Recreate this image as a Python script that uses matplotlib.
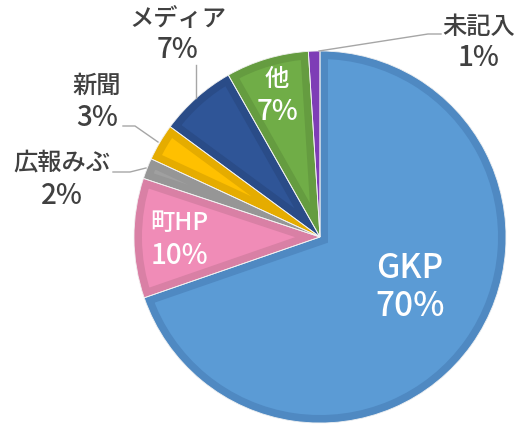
import matplotlib
matplotlib.use('Agg')
import matplotlib.pyplot as plt

plt.rcParams['font.family'] = ['Noto Sans CJK JP', 'DejaVu Sans']

# データ（時計回り、12時方向から）
categories = ['GKP', '町HP', '広報みぶ', '新聞', 'メディア', '他', '未記入']
values = [69.7, 10.4, 1.8, 3.2, 6.7, 7.2, 1.0]
pct_labels = [70, 10, 2, 3, 7, 7, 1]

fill_colors = ['#5B9BD5', '#F08CB7', '#A0A0A0', '#FFC000', '#2F5597', '#70AD47', '#8A45C4']
edge_colors = ['#4F89C2', '#D980A5', '#969696', '#E5AC00', '#2A4C88', '#659C40', '#7E3DB6']

W, H = 522, 426
fig = plt.figure(figsize=(W / 100, H / 100), dpi=100)
ax = fig.add_axes([0, 0, 1, 1])

cx, cy, r = 320, H - 237, 186
wedges, _ = ax.pie(values, colors=fill_colors, startangle=90, counterclock=False,
                   center=(cx, cy), radius=r, frame=True)
for w, ec in zip(wedges, edge_colors):
    w.set_edgecolor(ec)
    w.set_linewidth(11.5)
    w.set_clip_on(True)
    w.set_clip_path(w)   # 内側だけ縁取り

# 白い区切り線
seps, _ = ax.pie(values, colors=['none'] * len(values), startangle=90, counterclock=False,
                 center=(cx, cy), radius=r, frame=True,
                 wedgeprops=dict(edgecolor='#F2F2F2', linewidth=0.6))
for s in seps:
    s.set_facecolor('none')

ax.set_xlim(0, W)
ax.set_ylim(0, H)
ax.axis('off')

# ラベル位置（ピクセル座標: x, 1行目y, 2行目y, 色, 文字サイズ, %サイズ）
label_pos = {
    'GKP': (410, 269, 306, 'white', 24, 24),
    '町HP': (179, 223, 255, 'white', 17.5, 20),
    '広報みぶ': (62, 163, 195, '#404040', 17.5, 20),
    '新聞': (97, 86, 118, '#404040', 17.5, 20),
    'メディア': (178, 19, 50, '#404040', 17.5, 20),
    '他': (277, 79, 112, 'white', 17.5, 20),
    '未記入': (479, 27, 57, '#404040', 17.5, 20),
}
for cat, p in zip(categories, pct_labels):
    x, y1, y2, c, fs1, fs2 = label_pos[cat]
    ax.text(x, H - y1, cat, ha='center', va='center', color=c,
            fontsize=fs1, fontweight='medium')
    ax.text(x, H - y2, f'{p}%', ha='center', va='center', color=c,
            fontsize=fs2, fontweight='medium')

# 引き出し線
leaders = [
    [(319, 51), (428, 34), (441, 34)],
    [(196, 65), (196, 98)],
    [(123, 126), (135, 126), (158, 142)],
    [(113, 172), (130, 172), (146, 168)],
]
for pts in leaders:
    xs = [p[0] for p in pts]
    ys = [H - p[1] for p in pts]
    ax.plot(xs, ys, color='#A6A6A6', linewidth=1.0)

fig.savefig('out.png', dpi=100)
